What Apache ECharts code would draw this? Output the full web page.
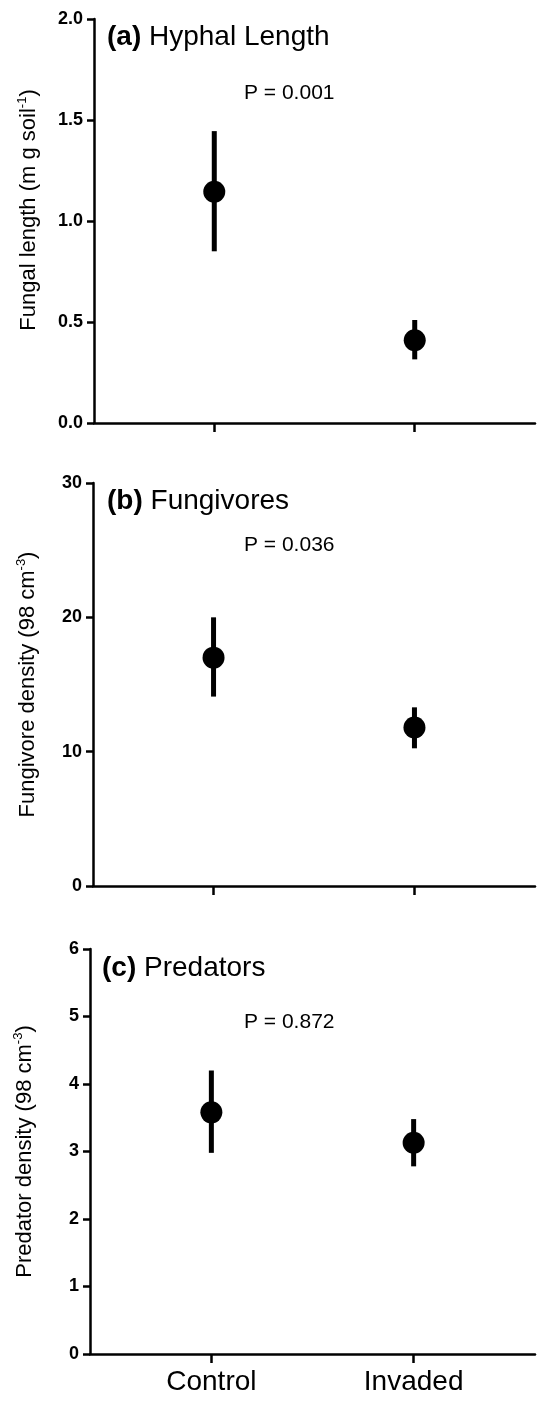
<!DOCTYPE html>
<html>
<head>
<meta charset="utf-8">
<script src="https://cdn.jsdelivr.net/npm/echarts@6/dist/echarts.min.js"></script>
<style>
  html, body { margin: 0; padding: 0; background: #fff; }
  #chart { width: 537px; height: 1404px; }
</style>
</head>
<body>
<div id="chart"></div>
<script>
  // treatments on the x axis
  const groups = ['Control', 'Invaded'];

  // (a) hyphal length, m g soil-1
  const hyphaMean = [1.145, 0.41];
  const hyphaLow = [0.85, 0.315];
  const hyphaHigh = [1.445, 0.51];

  // (b) fungivores, per 98 cm-3
  const fungMean = [17.0, 11.8];
  const fungLow = [14.1, 10.25];
  const fungHigh = [20.0, 13.3];

  // (c) predators, per 98 cm-3
  const predMean = [3.58, 3.13];
  const predLow = [2.98, 2.78];
  const predHigh = [4.2, 3.48];

  const yTicksA = [0, 0.5, 1.0, 1.5, 2.0];
  const yTicksB = [0, 10, 20, 30];
  const yTicksC = [0, 1, 2, 3, 4, 5, 6];

  const pValues = ['P = 0.001', 'P = 0.036', 'P = 0.872'];

  const font = '"Liberation Sans", Arial, sans-serif';

  function points(means) {
    return means.map((m, i) => [i + 1, m]);
  }
  function bars(low, high) {
    return low.map((l, i) => [i + 1, l, high[i]]);
  }

  function errorBar(params, api) {
    const a = api.coord([api.value(0), api.value(1)]);
    const b = api.coord([api.value(0), api.value(2)]);
    return {
      type: 'line',
      shape: { x1: a[0], y1: a[1], x2: b[0], y2: b[1] },
      style: { stroke: '#000', lineWidth: 5 }
    };
  }

  function xAxis(idx, showLabels) {
    return {
      type: 'value', gridIndex: idx, min: 0.4, max: 2.6,
      axisLine: { lineStyle: { color: '#000', width: 2.5 } },
      axisTick: { inside: false, customValues: [1, 2], length: 9, lineStyle: { color: '#000', width: 2.5 } },
      axisLabel: {
        show: showLabels, customValues: [1, 2], margin: 14,
        formatter: v => groups[Math.round(v) - 1] || '',
        color: '#000', fontSize: 28, fontFamily: font
      },
      splitLine: { show: false }
    };
  }

  function yAxis(idx, ticks, name, sup, digits, shift) {
    return {
      type: 'value', gridIndex: idx,
      min: ticks[0], max: ticks[ticks.length - 1], interval: ticks[1] - ticks[0],
      name: '{n|' + name + '}{s|' + sup + '}{n|)}',
      nameLocation: 'middle', nameGap: 52,
      nameTextStyle: {
        padding: [0, 0, 0, shift],
        rich: {
          n: { fontSize: 22, fontFamily: font, color: '#000', lineHeight: 26 },
          s: { fontSize: 13, fontFamily: font, color: '#000', lineHeight: 26, verticalAlign: 'top' }
        }
      },
      axisLine: { show: true, lineStyle: { color: '#000', width: 2.5 } },
      axisTick: { show: true, inside: false, length: 7, lineStyle: { color: '#000', width: 2.5 } },
      axisLabel: {
        inside: false, margin: 11, color: '#000', fontSize: 18, fontWeight: 'bold', fontFamily: font,
        formatter: v => v.toFixed(digits)
      },
      splitLine: { show: false }
    };
  }

  function panelTitle(letter, text, top, left) {
    return {
      text: '{b|(' + letter + ')} ' + text, left: left, top: top, padding: 0,
      textStyle: {
        fontSize: 28, fontWeight: 'normal', fontFamily: font, color: '#000',
        rich: { b: { fontSize: 28, fontWeight: 'bold', fontFamily: font, color: '#000' } }
      }
    };
  }
  function pTitle(text, top) {
    return {
      text: text, left: 244, top: top, padding: 0,
      textStyle: { fontSize: 21, fontWeight: 'normal', fontFamily: font, color: '#000' }
    };
  }

  const chart = echarts.init(document.getElementById('chart'), null, { renderer: 'canvas' });

  const option = {
    animation: false,
    backgroundColor: '#fff',
    title: [
      panelTitle('a', 'Hyphal Length', 23, 107),
      pTitle(pValues[0], 83),
      panelTitle('b', 'Fungivores', 487, 107),
      pTitle(pValues[1], 535),
      panelTitle('c', 'Predators', 954, 102),
      pTitle(pValues[2], 1012)
    ],
    grid: [
      { left: 94, right: 2, top: 19, height: 404, outerBoundsMode: 'none', containLabel: false },
      { left: 93, right: 2, top: 483, height: 403, outerBoundsMode: 'none', containLabel: false },
      { left: 90, right: 2, top: 949, height: 405, outerBoundsMode: 'none', containLabel: false }
    ],
    xAxis: [xAxis(0, false), xAxis(1, false), xAxis(2, true)],
    yAxis: [
      yAxis(0, yTicksA, 'Fungal length (m g soil', '-1', 1, 22),
      yAxis(1, yTicksB, 'Fungivore density (98 cm', '-3', 0, 0),
      yAxis(2, yTicksC, 'Predator density (98 cm', '-3', 0, 0)
    ],
    series: [
      { type: 'custom', xAxisIndex: 0, yAxisIndex: 0, renderItem: errorBar, data: bars(hyphaLow, hyphaHigh), z: 2 },
      { type: 'scatter', xAxisIndex: 0, yAxisIndex: 0, data: points(hyphaMean), symbolSize: 22, itemStyle: { color: '#000', opacity: 1 }, z: 3 },
      { type: 'custom', xAxisIndex: 1, yAxisIndex: 1, renderItem: errorBar, data: bars(fungLow, fungHigh), z: 2 },
      { type: 'scatter', xAxisIndex: 1, yAxisIndex: 1, data: points(fungMean), symbolSize: 22, itemStyle: { color: '#000', opacity: 1 }, z: 3 },
      { type: 'custom', xAxisIndex: 2, yAxisIndex: 2, renderItem: errorBar, data: bars(predLow, predHigh), z: 2 },
      { type: 'scatter', xAxisIndex: 2, yAxisIndex: 2, data: points(predMean), symbolSize: 22, itemStyle: { color: '#000', opacity: 1 }, z: 3 }
    ]
  };

  chart.setOption(option);
</script>
</body>
</html>
